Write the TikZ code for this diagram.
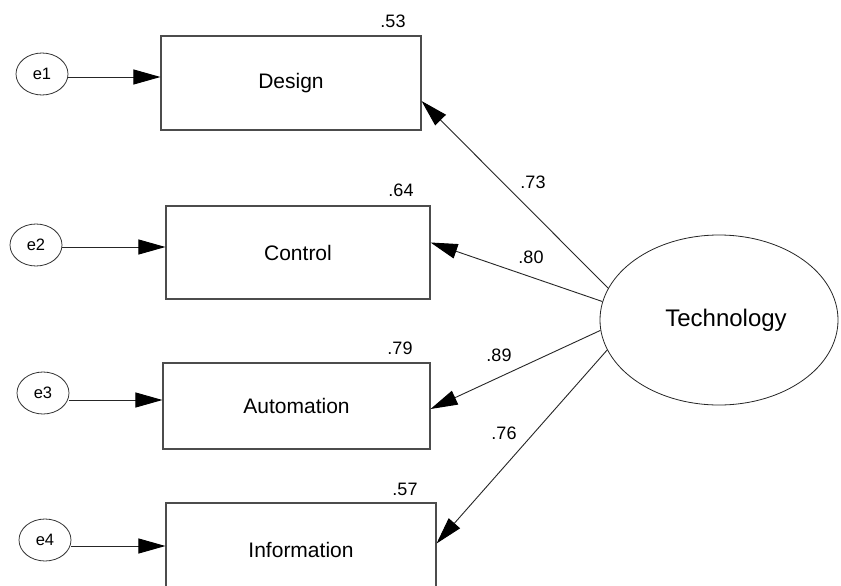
\documentclass[tikz,border=0pt]{standalone}
\usepackage{fontspec}
\setmainfont{Liberation Sans}
\usetikzlibrary{arrows.meta,shapes.geometric}

\tikzset{
  indicator/.style={draw=black!70, line width=1.1pt, rectangle, inner sep=0pt,
    font=\fontsize{21}{25}\selectfont},
  errorterm/.style={draw=black!80, line width=0.8pt, ellipse, inner sep=0pt,
    minimum width=52pt, minimum height=42pt, font=\fontsize{16.5}{19}\selectfont},
  latent/.style={draw=black!85, line width=0.8pt, ellipse, inner sep=0pt,
    minimum width=238pt, minimum height=170pt, font=\fontsize{24}{28}\selectfont},
  coef/.style={font=\fontsize{18}{21}\selectfont, inner sep=0pt},
  path/.style={draw=black!85, line width=0.9pt,
    -{Triangle[length=27pt,width=15pt,color=black]}}
}

\begin{document}
\begin{tikzpicture}[x=1pt,y=-1pt]
  \useasboundingbox (0,0) rectangle (841,586);
  \clip (0,0) rectangle (841,586);
  \fill[white] (0,0) rectangle (841,586);

  % observed indicators
  \node[indicator, minimum width=260pt, minimum height=94pt] (design) at (291,83) {Design};
  \node[indicator, minimum width=264pt, minimum height=93pt] (control) at (298,252.5) {Control};
  \node[indicator, minimum width=267pt, minimum height=86pt] (automation) at (296.5,406) {Automation};
  \node[indicator, minimum width=270pt, minimum height=93pt] (information) at (301,549.5) {Information};

  % error terms
  \node[errorterm] (e1) at (42,74) {e1};
  \node[errorterm] (e2) at (36,245) {e2};
  \node[errorterm] (e3) at (43,393) {e3};
  \node[errorterm] (e4) at (45,540) {e4};

  % latent factor
  \node[latent] (tech) at (719,320) {\hspace*{14pt}Technology};

  % squared multiple correlations
  \node[coef] (r1) at (393,21) {.53};
  \node[coef] (r2) at (401,190) {.64};
  \node[coef] (r3) at (400,348) {.79};
  \node[coef] (r4) at (405,489) {.57};

  % error paths
  \draw[path] (e1.east |- 0,77) -- (design.west |- 0,77);
  \draw[path] (e2.east |- 0,247) -- (control.west |- 0,247);
  \draw[path] (e3.east |- 0,400) -- (automation.west |- 0,400);
  \draw[path] (e4.east |- 0,546) -- (information.west |- 0,546);

  % factor loadings
  \draw[path] (tech.164) -- ([yshift=-18pt]design.east);
  \draw[path] (tech.171) -- ([yshift=10pt]control.east);
  \draw[path] (tech.185) -- ([yshift=-3pt]automation.east);
  \draw[path] (tech.195) -- ([yshift=6pt]information.east);

  % loading values
  \node[coef] (l1) at (533,182) {.73};
  \node[coef] (l2) at (531,257) {.80};
  \node[coef] (l3) at (499,355) {.89};
  \node[coef] (l4) at (504,433) {.76};
\end{tikzpicture}
\end{document}
